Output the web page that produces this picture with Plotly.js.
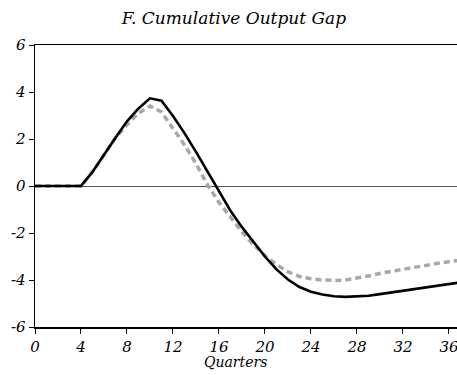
<!DOCTYPE html>
<html>
<head>
<meta charset="utf-8">
<script src="https://cdn.plot.ly/plotly-3.0.1.min.js"></script>
<style>html,body{margin:0;padding:0;background:#fff;}#chart{width:457px;height:375px;}</style>
</head>
<body>
<div id="chart"></div>
<script>
const quarters = [0,1,2,3,4,5,6,7,8,9,10,11,12,13,14,15,16,17,18,19,20,21,22,23,24,25,26,27,28,29,30,31,32,33,34,35,36,37];
const solidSeries = [0,0,0,0,0,0.6,1.35,2.05,2.75,3.3,3.73,3.63,2.98,2.25,1.45,0.6,-0.25,-1.05,-1.75,-2.4,-3.0,-3.55,-3.98,-4.3,-4.5,-4.62,-4.69,-4.72,-4.71,-4.67,-4.6,-4.53,-4.46,-4.38,-4.31,-4.24,-4.17,-4.1];
const dashedSeries = [0,0,0,0,0,0.6,1.35,2.05,2.6,3.1,3.4,3.15,2.45,1.75,0.95,0.05,-0.7,-1.35,-1.95,-2.5,-2.97,-3.35,-3.65,-3.85,-3.95,-4.0,-4.02,-4.0,-3.93,-3.83,-3.72,-3.63,-3.53,-3.44,-3.36,-3.29,-3.22,-3.16];
const xTickVals = [0,4,8,12,16,20,24,28,32,36];
const yTickVals = [-6,-4,-2,0,2,4,6];
const yTickText = ["-6","-4","-2","0","2","4","6"];
const titleText = "F. Cumulative Output Gap";
const xTitle = "Quarters";

const FONT = "DejaVu Serif";
const traces = [
  {x: quarters, y: dashedSeries, type: "scatter", mode: "lines",
   line: {color: "#a8a8a8", width: 3.5, dash: "6px,4px"}, hoverinfo: "skip"},
  {x: quarters, y: solidSeries, type: "scatter", mode: "lines",
   line: {color: "#000000", width: 2.6}, hoverinfo: "skip"}
];
const layout = {
  width: 457, height: 375,
  margin: {l: 35, r: 0, t: 45, b: 48, pad: 0},
  paper_bgcolor: "#fff", plot_bgcolor: "#fff",
  showlegend: false,
  font: {family: FONT, style: "italic", color: "#000", size: 15},
  title: {text: titleText, x: 0.512, xref: "container", xanchor: "center", y: 0.953, yref: "container", yanchor: "middle",
          font: {family: FONT, style: "italic", size: 17, color: "#000"}},
  xaxis: {range: [0, 36.7], tickvals: xTickVals, ticks: "outside", ticklen: 5, tickwidth: 1, tickcolor: "#000",
          showline: true, linecolor: "#000", linewidth: 1.5, mirror: true, showgrid: false, zeroline: false,
          ticklabeloverflow: "allow",
          tickfont: {family: FONT, style: "italic", size: 15, color: "#000"}},
  yaxis: {range: [-6, 6], tickvals: yTickVals, ticktext: yTickText, ticks: "outside", ticklen: 5, tickwidth: 1, tickcolor: "#000",
          showline: true, linecolor: "#000", linewidth: 1.5, showgrid: false,
          zeroline: true, zerolinecolor: "#555", zerolinewidth: 1,
          tickfont: {family: FONT, style: "italic", size: 15, color: "#000"}},
  annotations: [{text: xTitle, xref: "paper", yref: "paper", x: 0.476, y: -0.124, xanchor: "center", yanchor: "middle",
                 showarrow: false, font: {family: FONT, style: "italic", size: 14, color: "#000"}}]
};
Plotly.newPlot("chart", traces, layout, {staticPlot: true, displayModeBar: false});
</script>
</body>
</html>
